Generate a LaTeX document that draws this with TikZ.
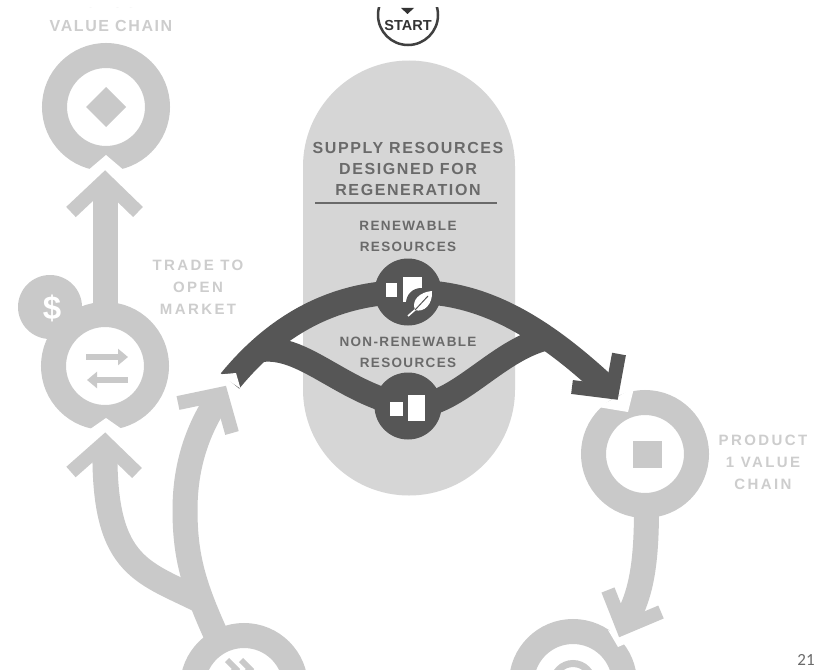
\documentclass[tikz,border=0pt]{standalone}
\usepackage{fontspec}
\setmainfont{Liberation Sans}
\usetikzlibrary{arrows.meta}
\definecolor{flowgray}{HTML}{C9C9C9}
\definecolor{pillgray}{HTML}{D6D6D6}
\definecolor{darkband}{HTML}{565656}
\definecolor{labelgray}{HTML}{6A6A6A}
\definecolor{palegray}{HTML}{CDCDCD}
\newfontfamily\capsfont[LetterSpace=10]{Liberation Sans}
\newfontfamily\palefont[LetterSpace=16]{Liberation Sans}
\def\chevron[#1](#2)(#3)(#4){\draw[#1] (#2) -- (#3) -- (#4);}
\tikzset{
	ringnode/.style={circle, draw=flowgray, fill=white, line width=25pt, minimum size=103pt, inner sep=0pt},
	hubnode/.style={circle, fill=darkband, minimum size=67pt, inner sep=0pt},
	flow/.style={draw=flowgray, line width=25pt},
	flowhead/.style={draw=flowgray, line width=14pt, miter limit=4},
	band/.style={draw=darkband, line width=24pt},
	bandhead/.style={draw=darkband, line width=14pt, miter limit=4},
	gapfill/.style={fill=white, draw=none},
	darklabel/.style={text=labelgray, align=center, font=\capsfont\bfseries\fontsize{16}{21}\selectfont},
	smalllabel/.style={text=labelgray, align=center, font=\capsfont\bfseries\fontsize{13.5}{21}\selectfont},
	palelabel/.style={text=palegray, align=center, font=\palefont\bfseries\fontsize{15}{22}\selectfont},
}
\begin{document}
\begin{tikzpicture}[x=1pt, y=-1pt]
	\useasboundingbox (0, 0) rectangle (821, 669);
	\fill[white] (0, 0) rectangle (821, 669);
	\begin{scope}
	\clip (0, 8) rectangle (821, 669);

	%%% supply pill
	\node[fill=pillgray, rounded corners=106pt, minimum width=212pt, minimum height=435pt, inner sep=0pt] (pill) at (409, 278) {};
	\node[circle, draw=black!75, line width=2.5pt, minimum size=60pt, inner sep=0pt] (start) at (408, 15) {};
	\node[text=black!80, font=\bfseries\fontsize{14.5}{15}\selectfont] (startlabel) at (408, 26) {START};
	\fill[black!80] (401, 8) -- (414, 8) -- (407.5, 14) -- cycle;

	%%% grey flows
	\coordinate (marketspot) at (105, 366);
	\coordinate (onespot) at (645, 454);
	\coordinate (topapex) at (105, 180);
	\coordinate (marketapex) at (105, 442);
	\coordinate (openapex) at (221, 394);
	\coordinate (lowapex) at (623, 628);
	\coordinate (fork) at (205, 603);

	\draw[flow] (marketspot) -- (105, 190);
	\draw[flow, shorten >=9pt] (fork) .. controls (145, 572) and (104, 570) .. (marketapex);
	\draw[flow, shorten >=9pt] (222, 648) .. controls (195, 590) and (185, 560) .. (185, 510) .. controls (185, 465) and (198, 430) .. (openapex);
	\draw[flow, shorten >=9pt] (onespot) .. controls (650, 560) and (642, 590) .. (lowapex);

	%%% rings
	\node[circle, fill=flowgray, minimum size=64pt, inner sep=0pt] (dollar) at (50, 307) {};
	\node[ringnode] (market) at (marketspot) {};
	\node[ringnode] (producttop) at (106, 107) {};
	\node[ringnode] (productone) at (onespot) {};
	\node[ringnode] (leftbottom) at (244, 687) {};
	\node[ringnode] (rightbottom) at (573, 683) {};

	%%% gaps in the rings
	\fill[gapfill] (106, 155) -- (86, 172) -- (126, 172) -- cycle;
	\fill[gapfill] (106, 418) -- (86, 432) -- (126, 432) -- cycle;
	\fill[gapfill] (628, 412) -- (598, 407) -- (634, 388) -- cycle;
	\fill[gapfill] (618, 647) -- (608, 630) -- (634, 640) -- cycle;

	%%% grey heads
	\chevron[flowhead](71, 212)(topapex)(138, 212);
	\chevron[flowhead](71, 472)(marketapex)(137, 473);
	\chevron[flowhead](178, 403)(openapex)(232, 433);
	\chevron[flowhead](608, 590)(lowapex)(661, 612);

	%%% ring symbols
	\fill[flowgray] (106, 87) -- (126, 107) -- (106, 127) -- (86, 107) -- cycle;
	\fill[flowgray] (633, 441) rectangle (662, 468);
	\draw[flowgray, line width=6pt, -{Triangle[length=10pt, width=16pt]}] (86, 357) -- (128, 357);
	\draw[flowgray, line width=6pt, -{Triangle[length=10pt, width=16pt]}] (128, 380) -- (87, 380);
	\node[text=white, font=\bfseries\fontsize{33}{33}\selectfont] (dollarsign) at (52, 308) {\$};
	\chevron[draw=flowgray, line width=6pt](227, 660)(236, 669)(227, 678);
	\chevron[draw=flowgray, line width=6pt](241, 660)(250, 669)(241, 678);
	\node[circle, draw=flowgray, line width=7pt, minimum size=39pt, inner sep=0pt] (target) at (573, 683) {};

	%%% dark bands
	\node[hubnode] (renewable) at (408, 292) {};
	\node[hubnode] (nonrenewable) at (408, 406) {};
	\coordinate (tail) at (230, 381);
	\coordinate (headapex) at (612, 392);
	\draw[band, shorten >=8pt] (tail) .. controls (280, 320) and (340, 292) .. (renewable.center) .. controls (480, 290) and (540, 325) .. (headapex);
	\draw[band] (262, 350) .. controls (305, 345) and (345, 395) .. (nonrenewable.center) .. controls (455, 410) and (495, 350) .. (548, 338);
	\chevron[bandhead](619, 354)(headapex)(572, 387);
	\fill[gapfill] (219.5, 374.5) -- (236, 373) -- (240.5, 388.5) -- cycle;

	%%% hub symbols
	\fill[white] (386, 283) rectangle (397, 297);
	\fill[white] (403, 277) rectangle (422, 302);
	\fill[darkband] (421, 303) circle (15);
	\fill[white] (432, 291) .. controls (420, 292) and (411, 300) .. (415, 310) .. controls (424, 313) and (433, 304) .. (432, 291) -- cycle;
	\draw[white, line width=1.6pt] (416, 309) -- (408, 316);
	\draw[darkband, line width=1pt] (415, 310) -- (428, 296);
	\fill[white] (390, 402) rectangle (403, 416);
	\fill[white] (408, 395) rectangle (425, 421);

	%%% labels
	\node[palelabel, font=\capsfont\bfseries\fontsize{16}{24}\selectfont] (topname) at (111, 14) {PRODUCT 2\\VALUE CHAIN};
	\node[palelabel] (tradename) at (198, 287) {TRADE TO\\OPEN\\MARKET};
	\node[palelabel] (onename) at (763, 462) {PRODUCT\\1 VALUE\\CHAIN};
	\node[darklabel] (supply) at (408, 169) {SUPPLY RESOURCES\\DESIGNED FOR\\REGENERATION};
	\node[smalllabel] (renewname) at (408, 236) {RENEWABLE\\RESOURCES};
	\node[smalllabel] (nonrenewname) at (408, 352) {NON-RENEWABLE\\RESOURCES};
	\coordinate (ruleleft) at (315, 203);
	\coordinate (ruleright) at (497, 203);
	\draw[labelgray, line width=2pt] (ruleleft) -- (ruleright);
	\end{scope}

	\node[text=labelgray, font=\fontsize{17}{17}\selectfont] (pagenum) at (806, 660) {\setmainfont{Carlito}21};
\end{tikzpicture}
\end{document}
